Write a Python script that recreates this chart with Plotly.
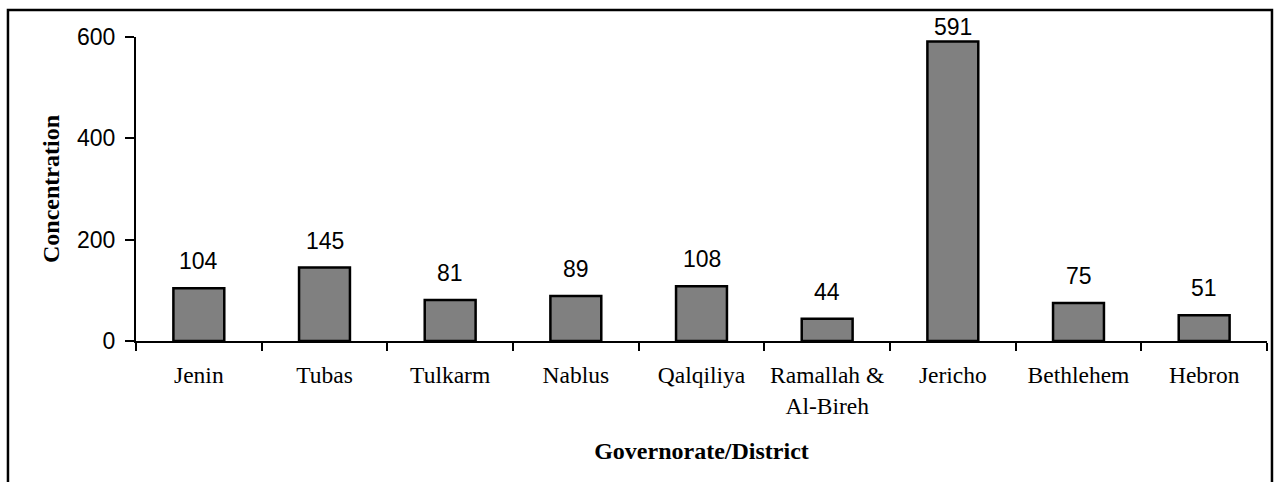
import plotly.graph_objects as go

districts = ["Jenin", "Tubas", "Tulkarm", "Nablus", "Qalqiliya",
             "Ramallah &<br>Al-Bireh", "Jericho", "Bethlehem", "Hebron"]
concentration = [104, 145, 81, 89, 108, 44, 591, 75, 51]
y_ticks = [0, 200, 400, 600]
y_max = 600

SERIF = "Liberation Serif, Times New Roman, serif"
SANS = "Liberation Sans, Arial, sans-serif"

fig = go.Figure()
fig.add_trace(go.Bar(
    x=districts, y=concentration,
    marker=dict(color="#808080", line=dict(color="black", width=2.5)),
    width=0.405, hoverinfo="x+y",
))

for d, v in zip(districts, concentration):
    shift = 12 if v < 0.9 * y_max else 0
    fig.add_annotation(x=d, y=v, text=str(v), showarrow=False,
                       yanchor="bottom", yshift=shift,
                       font=dict(family=SANS, size=23, color="black"))

# outer chart frame
fig.add_shape(type="rect", xref="paper", yref="paper",
              x0=-0.1132, x1=1.0044, y0=-0.55, y1=1.0888,
              line=dict(color="black", width=2.5), layer="below")

fig.update_layout(
    width=1275, height=482,
    margin=dict(l=136, r=8, t=37, b=141),
    paper_bgcolor="white", plot_bgcolor="white",
    showlegend=False,
    xaxis=dict(
        type="category", range=[-0.5, 8.5],
        showline=True, linecolor="black", linewidth=2,
        ticks="outside", tickson="boundaries", ticklen=8, tickwidth=2, tickcolor="black",
        ticklabelstandoff=12,
        showgrid=False, zeroline=False,
        tickfont=dict(family=SERIF, size=23.5, color="black"),
        title=dict(text="<b>Governorate/District</b>", standoff=24,
                   font=dict(family=SERIF, size=24, color="black")),
    ),
    yaxis=dict(
        range=[0, y_max], tickvals=y_ticks,
        showline=True, linecolor="black", linewidth=2,
        ticks="outside", ticklen=9, tickwidth=2, tickcolor="black",
        ticklabelstandoff=5,
        showgrid=False, zeroline=False,
        tickfont=dict(family=SANS, size=23, color="black"),
        title=dict(text="<b>Concentration</b>", standoff=11,
                   font=dict(family=SERIF, size=24, color="black")),
    ),
)

fig.write_html("out.html", config={"displayModeBar": False},
               post_script="document.body.style.margin='0';document.body.style.overflow='hidden';")
